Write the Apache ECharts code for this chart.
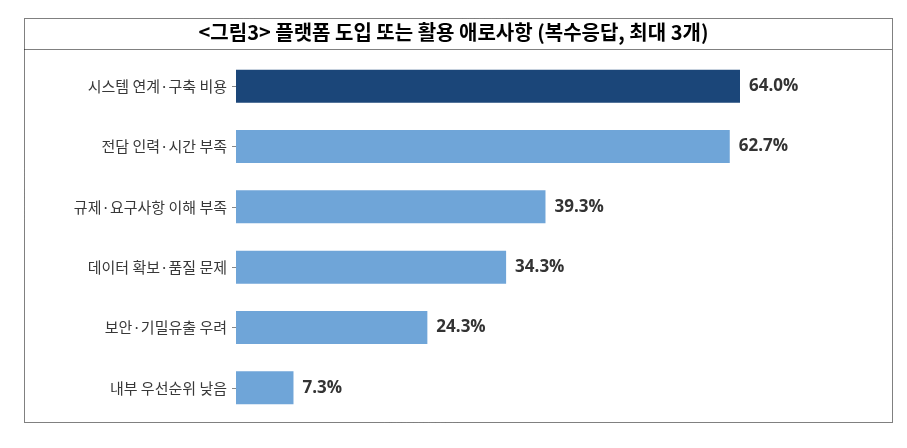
<!DOCTYPE html>
<html>
<head>
<meta charset="utf-8">
<script src="https://cdn.jsdelivr.net/npm/echarts@6/dist/echarts.min.js"></script>
<style>
html, body { margin: 0; padding: 0; background: #fff; }
#chart { width: 907px; height: 448px; }
</style>
</head>
<body>
<div id="chart"></div>
<script>
// 플랫폼 도입 또는 활용 애로사항
var titleText = '<그림3> 플랫폼 도입 또는 활용 애로사항 (복수응답, 최대 3개)';
var categories = ['시스템 연계·구축 비용', '전담 인력·시간 부족', '규제·요구사항 이해 부족', '데이터 확보·품질 문제', '보안·기밀유출 우려', '내부 우선순위 낮음'];
var values = [64.0, 62.7, 39.3, 34.3, 24.3, 7.3];

var darkColor = '#1b4679';
var lightColor = '#6fa5d8';

var seriesData = values.map(function(v, i) {
	return {
		value: v,
		itemStyle: { color: i === 0 ? darkColor : lightColor }
	};
});

var option = {
	backgroundColor: '#fff',
	animation: false,
	graphic: [{
		type: 'rect',
		shape: { x: 24.5, y: 18.5, width: 868, height: 404 },
		style: { fill: 'none', stroke: '#000', lineWidth: 1, lineDash: [1, 1] },
		silent: true
	}, {
		type: 'line',
		shape: { x1: 24.5, y1: 49.5, x2: 892.5, y2: 49.5 },
		style: { stroke: '#000', lineWidth: 1, lineDash: [1, 1] },
		silent: true
	}, {
		type: 'text',
		left: 'center',
		top: 22,
		style: {
			text: titleText,
			fill: '#000',
			font: 'bold 20px "Noto Sans CJK KR"'
		},
		silent: true
	}],
	grid: {
		left: 236,
		right: 41,
		top: 56,
		bottom: 30
	},
	xAxis: {
		type: 'value',
		min: 0,
		max: 80,
		show: false
	},
	yAxis: {
		type: 'category',
		data: categories,
		inverse: true,
		axisLine: { show: false },
		axisTick: {
			show: true,
			alignWithLabel: true,
			length: 4,
			lineStyle: { color: '#888' }
		},
		axisLabel: {
			margin: 9,
			color: '#383838',
			fontSize: 15,
			fontFamily: '"Noto Sans CJK KR"'
		}
	},
	series: [{
		type: 'bar',
		data: seriesData,
		barWidth: 33,
		label: {
			show: true,
			position: 'right',
			distance: 9,
			color: '#333',
			fontSize: 17,
			fontWeight: 'bold',
			fontFamily: '"Open Sans", "Noto Sans"',
			formatter: function(p) {
				return p.value.toFixed(1) + '%';
			}
		}
	}]
};

var myChart = echarts.init(document.getElementById('chart'));
myChart.setOption(option);
</script>
</body>
</html>
